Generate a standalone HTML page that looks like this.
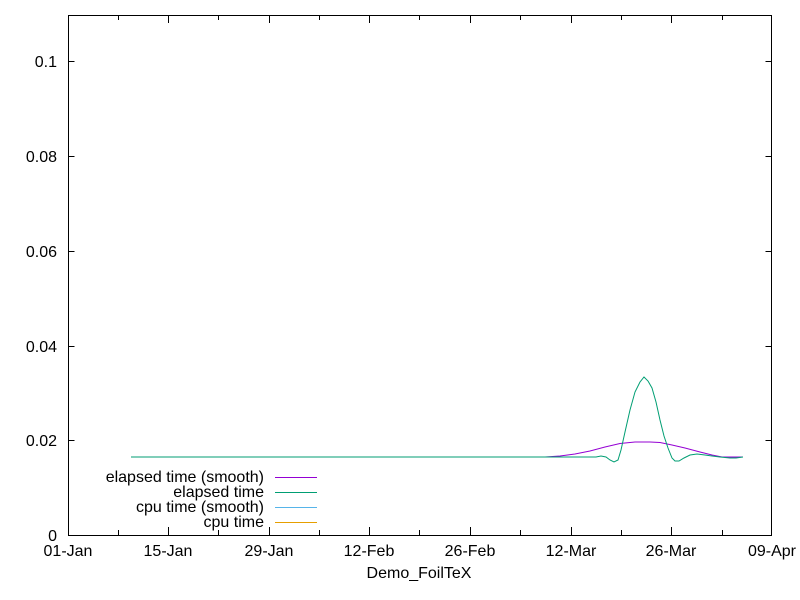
<!DOCTYPE html>
<html><head><meta charset="utf-8"><style>body{margin:0;background:#fff}svg{display:block}</style></head><body>
<svg width="800" height="600" xmlns="http://www.w3.org/2000/svg" font-family="Liberation Sans, sans-serif" font-size="16" fill="#000">
<rect width="800" height="600" fill="#fff"/>
<g stroke="#000" stroke-width="1" fill="none">
<rect x="68.5" y="15.5" width="703" height="520"/>
<path d="M68.5 440.5h6M771.5 440.5h-6M68.5 346.5h6M771.5 346.5h-6M68.5 251.5h6M771.5 251.5h-6M68.5 156.5h6M771.5 156.5h-6M68.5 61.5h6M771.5 61.5h-6"/>
<path d="M118.5 535v-5M118.5 15v5M168.5 535v-8M168.5 15v8M218.5 535v-5M218.5 15v5M269.5 535v-8M269.5 15v8M319.5 535v-5M319.5 15v5M369.5 535v-8M369.5 15v8M419.5 535v-5M419.5 15v5M470.5 535v-8M470.5 15v8M520.5 535v-5M520.5 15v5M571.5 535v-8M571.5 15v8M621.5 535v-5M621.5 15v5M671.5 535v-8M671.5 15v8M722.5 535v-5M722.5 15v5"/>
</g>
<g text-anchor="end">
<text x="57" y="541">0</text><text x="57" y="446">0.02</text><text x="57" y="352">0.04</text><text x="57" y="257">0.06</text><text x="57" y="162">0.08</text><text x="57" y="67">0.1</text>
</g>
<g text-anchor="middle">
<text x="68" y="556">01-Jan</text><text x="168" y="556">15-Jan</text><text x="269" y="556">29-Jan</text><text x="369" y="556">12-Feb</text><text x="470" y="556">26-Feb</text><text x="571" y="556">12-Mar</text><text x="671" y="556">26-Mar</text><text x="772" y="556">09-Apr</text>
<text x="419" y="578">Demo_FoilTeX</text>
</g>
<g fill="none" stroke-width="1">
<polyline stroke="#9400d3" points="131,457 545,457 560,456 575,454 590,451 605,447 620,443.5 635,442 650,442 660,442.5 672,445 685,448 700,452 712,455 722,457 743,457"/>
<polyline stroke="#009e73" points="131,457 596,457 601,456 606,457 610,460 614,462 618,460 621,450 625,432 630,410 635,392 640,382 644,377 648,381 652,388 656,402 660,420 664,436 668,448 672,458 675,461 679,461 684,458 690,455 697,454 705,455 712,456 720,457 730,458 736,458 743,457"/>
</g>
<g text-anchor="end">
<text x="264" y="482">elapsed time (smooth)</text>
<text x="264" y="497">elapsed time</text>
<text x="264" y="512">cpu time (smooth)</text>
<text x="264" y="527">cpu time</text>
</g>
<g stroke-width="1">
<line x1="275" y1="477.5" x2="317" y2="477.5" stroke="#9400d3"/>
<line x1="275" y1="492.5" x2="317" y2="492.5" stroke="#009e73"/>
<line x1="275" y1="507.5" x2="317" y2="507.5" stroke="#56b4e9"/>
<line x1="275" y1="522.5" x2="317" y2="522.5" stroke="#e69f00"/>
</g>
</svg>
</body></html>
